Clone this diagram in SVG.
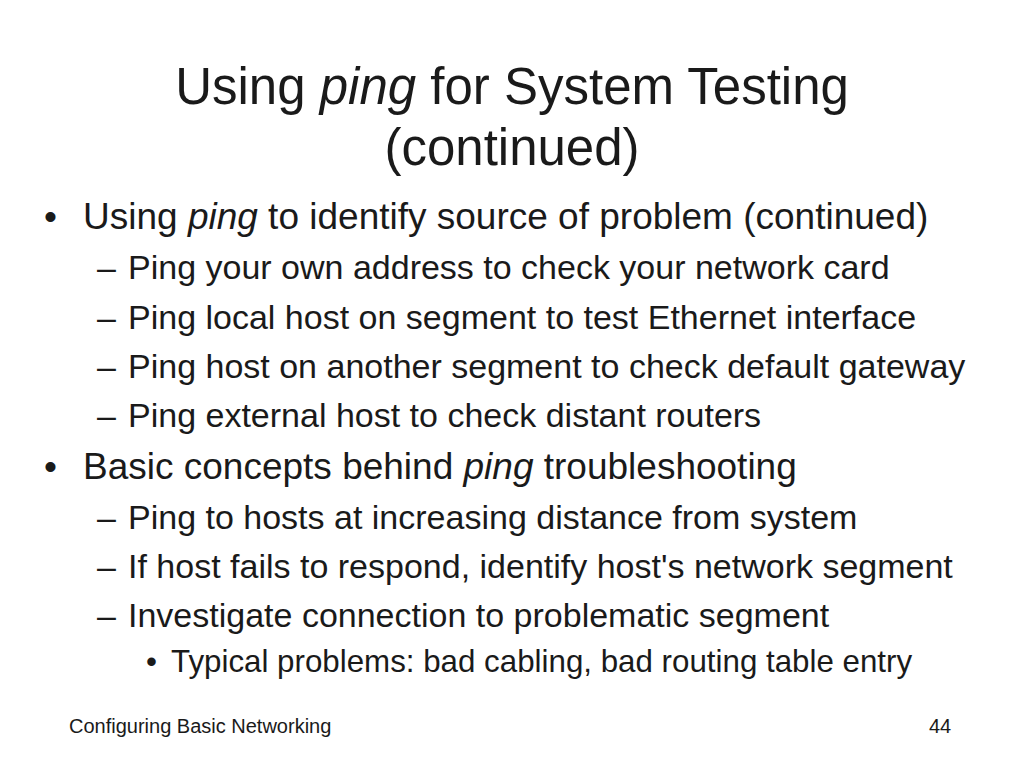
<svg xmlns="http://www.w3.org/2000/svg" width="1024" height="768" viewBox="0 0 1024 768">
<style>
text{font-family:"Liberation Sans",Arial,sans-serif;fill:#1a1a1a}
.t{font-size:51px}
.b1{font-size:37px}
.b2{font-size:34px}
.b3{font-size:31.3px}
.f{font-size:20px}
</style>
<rect width="1024" height="768" fill="#fff"/>
<text class="t" x="512" y="104" text-anchor="middle">Using <tspan font-style="italic">ping</tspan> for System Testing</text>
<text class="t" x="512" y="165" text-anchor="middle">(continued)</text>
<text class="b1" x="44" y="229">•</text>
<text class="b1" x="83" y="229">Using <tspan font-style="italic">ping</tspan> to identify source of problem (continued)</text>
<text class="b2" x="97" y="279">–</text>
<text class="b2" x="128" y="279">Ping your own address to check your network card</text>
<text class="b2" x="97" y="329">–</text>
<text class="b2" x="128" y="329">Ping local host on segment to test Ethernet interface</text>
<text class="b2" x="97" y="378">–</text>
<text class="b2" x="128" y="378">Ping host on another segment to check default gateway</text>
<text class="b2" x="97" y="427">–</text>
<text class="b2" x="128" y="427">Ping external host to check distant routers</text>
<text class="b1" x="44" y="479">•</text>
<text class="b1" x="83" y="479">Basic concepts behind <tspan font-style="italic">ping</tspan> troubleshooting</text>
<text class="b2" x="97" y="529">–</text>
<text class="b2" x="128" y="529">Ping to hosts at increasing distance from system</text>
<text class="b2" x="97" y="578">–</text>
<text class="b2" x="128" y="578">If host fails to respond, identify host's network segment</text>
<text class="b2" x="97" y="627">–</text>
<text class="b2" x="128" y="627">Investigate connection to problematic segment</text>
<text class="b3" x="146" y="672">•</text>
<text class="b3" x="171" y="672">Typical problems: bad cabling, bad routing table entry</text>
<text class="f" x="69" y="733">Configuring Basic Networking</text>
<text class="f" x="929" y="733">44</text>
</svg>
